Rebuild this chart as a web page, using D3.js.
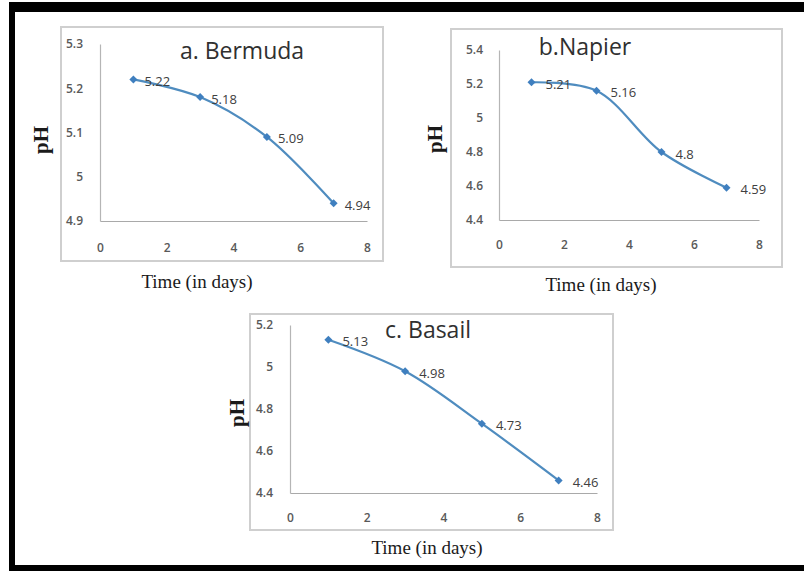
<!DOCTYPE html>
<html>
<head>
<meta charset="utf-8">
<script src="https://cdn.jsdelivr.net/npm/d3@7"></script>
<style>
  html, body { margin: 0; padding: 0; background: #ffffff; }
  svg { display: block; }
</style>
</head>
<body>
<svg id="chart" width="804" height="571"></svg>
<script>
// ---- data ----
const days = [1, 3, 5, 7];
const bermudaPH = [5.22, 5.18, 5.09, 4.94];
const napierPH = [5.21, 5.16, 4.80, 4.59];
const basailPH = [5.13, 4.98, 4.73, 4.46];

const xTicks = [0, 2, 4, 6, 8];
const bermudaTicks = [4.9, 5.0, 5.1, 5.2, 5.3];
const napierTicks = [4.4, 4.6, 4.8, 5.0, 5.2, 5.4];
const basailTicks = [4.4, 4.6, 4.8, 5.0, 5.2];

const titles = ["a. Bermuda", "b.Napier", "c. Basail"];
const xTitle = "Time (in days)";
const yTitle = "pH";

// ---- layout ----
const panels = [
  { title: titles[0], values: bermudaPH, ticks: bermudaTicks, yDomain: [4.9, 5.3],
    frame: [61, 27, 383, 261], x0: 100, x1: 367, y0: 221, y1: 44,
    titleX: 242, titleY: 59, xTitleX: 197, xTitleY: 288, yTitleX: 41, yTitleY: 140,
    xPad: 22, yPad: 17, labelDx: 11 },
  { title: titles[1], values: napierPH, ticks: napierTicks, yDomain: [4.4, 5.4],
    frame: [451, 29, 782, 267], x0: 499, x1: 759, y0: 220, y1: 50,
    titleX: 585, titleY: 55, xTitleX: 601, xTitleY: 291, yTitleX: 435, yTitleY: 139,
    xPad: 20, yPad: 16, labelDx: 14 },
  { title: titles[2], values: basailPH, ticks: basailTicks, yDomain: [4.4, 5.2],
    frame: [250, 314, 613, 530], x0: 290, x1: 597, y0: 493, y1: 325,
    titleX: 428, titleY: 338, xTitleX: 427, xTitleY: 554, yTitleX: 237, yTitleY: 413,
    xPad: 20, yPad: 17, labelDx: 14 }
];

const svg = d3.select("#chart");

// outer black border (top, left, bottom)
svg.append("rect").attr("x", 9).attr("y", 2).attr("width", 795).attr("height", 10).attr("fill", "#000");
svg.append("rect").attr("x", 9).attr("y", 2).attr("width", 6).attr("height", 569).attr("fill", "#000");
svg.append("rect").attr("x", 9).attr("y", 565).attr("width", 795).attr("height", 6).attr("fill", "#000");

const tickFont = "'Open Sans', 'Liberation Sans', sans-serif";
const lineColor = "#4f8cbf";
const markerColor = "#3f7fbf";

panels.forEach(p => {
  const g = svg.append("g");
  const [fx0, fy0, fx1, fy1] = p.frame;
  g.append("rect")
    .attr("x", fx0).attr("y", fy0)
    .attr("width", fx1 - fx0).attr("height", fy1 - fy0)
    .attr("fill", "#fff").attr("stroke", "#cfcfcf").attr("stroke-width", 2);

  const x = d3.scaleLinear().domain([0, 8]).range([p.x0, p.x1]);
  const y = d3.scaleLinear().domain(p.yDomain).range([p.y0, p.y1]);

  // x axis
  const xa = g.append("g").attr("transform", `translate(0,${p.y0})`)
    .call(d3.axisBottom(x).tickValues(xTicks).tickSize(0).tickSizeOuter(0).tickPadding(p.xPad).tickFormat(d3.format("d")));
  xa.select(".domain").attr("stroke", "#a9a9a9").attr("stroke-width", 1.2);
  xa.selectAll("text").attr("font-family", tickFont).attr("font-size", 12)
    .attr("font-weight", 600).attr("fill", "#595959");

  // y axis
  const ya = g.append("g").attr("transform", `translate(${p.x0},0)`)
    .call(d3.axisLeft(y).tickValues(p.ticks).tickSize(0).tickSizeOuter(0).tickPadding(p.yPad).tickFormat(d => String(+d.toFixed(1))));
  ya.select(".domain").attr("stroke", "#b5b5b5").attr("stroke-width", 1.2);
  ya.selectAll("text").attr("font-family", tickFont).attr("font-size", 12)
    .attr("font-weight", 600).attr("fill", "#595959");

  // title
  g.append("text").attr("x", p.titleX).attr("y", p.titleY)
    .attr("text-anchor", "middle")
    .attr("font-family", "'Open Sans', Lato, sans-serif")
    .attr("font-size", 23).attr("fill", "#303030")
    .text(p.title);

  // axis titles
  g.append("text").attr("x", p.xTitleX).attr("y", p.xTitleY)
    .attr("text-anchor", "middle")
    .attr("font-family", "'Liberation Serif', 'DejaVu Serif', serif")
    .attr("font-size", 19).attr("fill", "#1a1a1a")
    .text(xTitle);
  g.append("text")
    .attr("transform", `translate(${p.yTitleX},${p.yTitleY}) rotate(-90)`)
    .attr("text-anchor", "middle").attr("dy", "0.35em")
    .attr("font-family", "'Liberation Serif', 'DejaVu Serif', serif")
    .attr("font-size", 21).attr("font-weight", "bold").attr("fill", "#1a1a1a")
    .text(yTitle);

  const pts = days.map((d, i) => [d, p.values[i]]);

  // smoothed line
  const line = d3.line().x(d => x(d[0])).y(d => y(d[1])).curve(d3.curveCatmullRom.alpha(0.5));
  g.append("path").datum(pts)
    .attr("d", line).attr("fill", "none")
    .attr("stroke", lineColor).attr("stroke-width", 2.2);

  // diamond markers (rotated squares)
  g.selectAll(".mk").data(pts).enter().append("path")
    .attr("d", d3.symbol().type(d3.symbolSquare).size(32))
    .attr("transform", d => `translate(${x(d[0])},${y(d[1])}) rotate(45)`)
    .attr("fill", markerColor);

  // data labels
  g.selectAll(".lbl").data(pts).enter().append("text")
    .attr("x", d => x(d[0]) + p.labelDx)
    .attr("y", d => y(d[1]) + 2)
    .attr("dy", "0.35em")
    .attr("font-family", tickFont).attr("font-size", 13).attr("fill", "#404040")
    .text(d => String(d[1]));
});
</script>
</body>
</html>
